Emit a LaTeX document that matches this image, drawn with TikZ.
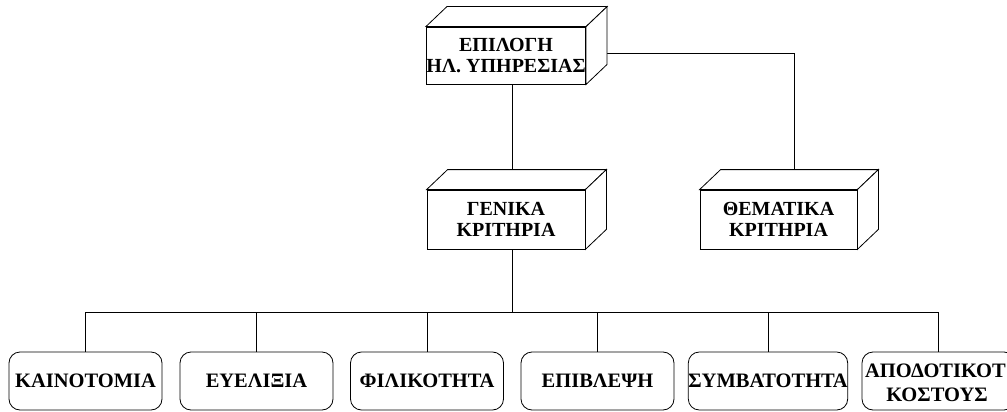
\documentclass[tikz,border=0pt]{standalone}
\usepackage{fontspec}
\setmainfont{Liberation Serif}
\usetikzlibrary{calc}

\tikzset{
  label font/.style={font=\fontsize{20}{20.5}\selectfont\bfseries},
  leaf font/.style={font=\fontsize{20.5}{24}\selectfont\bfseries},
  crate/.style={draw, fill=white, line width=0.8pt, inner sep=0pt,
                align=center, label font},
  leaf/.style={draw, fill=white, line width=0.8pt, rounded corners=11pt,
               minimum width=153pt, minimum height=58pt, inner sep=0pt,
               align=center, leaf font},
  wire/.style={line width=0.8pt},
}

% 3D faces (top and right) for a crate node
\newcommand{\crateFaces}[1]{%
  \draw[line width=0.8pt, fill=white, line join=miter]
    (#1.north west) -- ++(21,-20) -- ($(#1.north east)+(21,-20)$)
    -- (#1.north east) -- cycle;
  \draw[line width=0.8pt, fill=white, line join=miter]
    (#1.north east) -- ++(21,-20) -- ($(#1.south east)+(21,-20)$)
    -- (#1.south east) -- cycle;
}

\begin{document}
\begin{tikzpicture}[x=1pt, y=-1pt]
  \useasboundingbox (0,0) rectangle (1007,412);

  % front faces of the crates
  \node[crate, minimum width=158pt, minimum height=57pt] (sel) at (506,55.5)
    {ΕΠΙΛΟΓΗ\\ΗΛ. ΥΠΗΡΕΣΙΑΣ};
  \node[crate, minimum width=158pt, minimum height=59pt] (gen) at (506,219.5)
    {ΓΕΝΙΚΑ\\ΚΡΙΤΗΡΙΑ};
  \node[crate, minimum width=157pt, minimum height=59pt] (them) at (778.5,219.5)
    {ΘΕΜΑΤΙΚΑ\\ΚΡΙΤΗΡΙΑ};

  % connector end points
  \coordinate (busL) at (86,312);
  \coordinate (busR) at (939,312);
  \coordinate (corner) at (794,53);
  \coordinate (selbot) at ($(sel.south)+(6,0)$);
  \coordinate (selside) at ($(sel.east)+(12,-2.5)$);
  \coordinate (gentop) at ($(gen.north)+(6,-12)$);
  \coordinate (themtop) at ($(them.north)+(15.5,-12)$);
  \coordinate (genbot) at ($(gen.south)+(6,0)$);

  % connectors
  \draw[wire] (selbot) -- (gentop);
  \draw[wire] (selside) -- (corner) -- (themtop);
  \draw[wire] (genbot) -- (genbot |- busL);
  \draw[wire] (busL) -- (busR);

  % bottom row
  \foreach \nm/\cx/\txt in {k1/85.5/ΚΑΙΝΟΤΟΜΙΑ, k2/256.5/ΕΥΕΛΙΞΙΑ,
                           k3/427/ΦΙΛΙΚΟΤΗΤΑ, k4/597.5/ΕΠΙΒΛΕΨΗ,
                           k5/768/ΣΥΜΒΑΤΟΤΗΤΑ, k6/938.5/{}} {
    \node[leaf] (\nm) at (\cx,381) {\txt};
    \draw[wire] (\nm.north |- busL) -- (\nm.north);
  }
  \node[leaf font, anchor=base east, inner sep=0pt] (k6a) at (1006,377) {ΑΠΟΔΟΤΙΚΟΤ};
  \node[leaf font, anchor=base, inner sep=0pt] (k6b) at (937,401) {ΚΟΣΤΟΥΣ};

  % crate depth
  \crateFaces{sel}
  \crateFaces{gen}
  \crateFaces{them}
  \node[crate, minimum width=158pt, minimum height=57pt] at (sel) {ΕΠΙΛΟΓΗ\\ΗΛ. ΥΠΗΡΕΣΙΑΣ};
  \node[crate, minimum width=158pt, minimum height=59pt] at (gen) {ΓΕΝΙΚΑ\\ΚΡΙΤΗΡΙΑ};
  \node[crate, minimum width=157pt, minimum height=59pt] at (them) {ΘΕΜΑΤΙΚΑ\\ΚΡΙΤΗΡΙΑ};
\end{tikzpicture}
\end{document}
